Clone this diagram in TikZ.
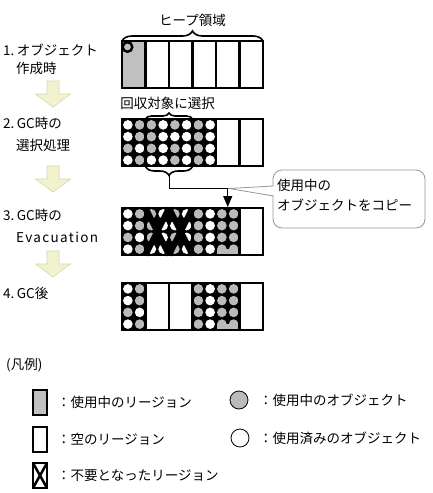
\documentclass[tikz,border=0pt]{standalone}
\usepackage{fontspec}
\setmainfont{Noto Sans CJK JP}
\usetikzlibrary{decorations.pathreplacing,arrows.meta}
\definecolor{rgray}{RGB}{192,192,192}
\definecolor{og}{RGB}{186,186,186}
\colorlet{ow}{white}
\definecolor{ayel}{RGB}{242,242,206}
\definecolor{ayelb}{RGB}{214,214,172}
\definecolor{cgray}{RGB}{150,150,150}
\newcommand\objgrid[1]{%
  \fill[black] (122,#1) rectangle (216,#1+47);
  \foreach \rr/\lst in {1/{ow,og,og,ow,og,ow,og,ow},2/{ow,og,og,ow,ow,ow,og,ow},3/{og,ow,og,ow,og,ow,og,ow},4/{ow,og,ow,ow,og,ow,og,ow}}{%
    \foreach \ff [count=\kk] in \lst {%
      \fill[\ff] ({127.875+11.75*(\kk-1)},{#1+5.875+11.75*(\rr-1)}) circle (4.8);
    }%
  }%
}
\newcommand\copyreg[1]{%
  \fill[black] (216,#1) rectangle (239.5,#1+47);
  \foreach \rr in {1,...,4}{\foreach \cc in {0,1}{\fill[og] ({221.875+11.75*\cc},{#1+5.875+11.75*(\rr-1)}) circle (4.8);}}
  \fill[og] (217.3,#1+41.1) rectangle (238.2,#1+45.6);
}
\newcommand\heapframe[1]{%
  \foreach \xx in {145.5,169,192.5,216,239.5}{\draw[line width=2.2] (\xx,#1) -- (\xx,#1+47);}
  \draw[line width=2.8] (122,#1) rectangle (263,#1+47);
}
\newcommand\yarrow[1]{%
  \filldraw[yarr] (47,#1) -- (59,#1) -- (59,#1+13) -- (70.5,#1+13) -- (53,#1+26) -- (35.5,#1+13) -- (47,#1+13) -- cycle;
}
\begin{document}
\begin{tikzpicture}[x=1pt,y=-1pt,
  lbl/.style={inner sep=0pt, anchor=west, font=\fontsize{13.5}{16}\selectfont},
  yarr/.style={fill=ayel, draw=ayelb, line width=0.6pt},
  hbrace/.style={decorate, decoration={brace, amplitude=#1}, line width=1.6pt},
  conn/.style={line width=1pt}]
\useasboundingbox (0,0) rectangle (433,493);
\fill[white] (0,0) rectangle (433,493);

% ---- top label and brace
\node[lbl, anchor=center] (heap) at (192.5,20) {ヒープ領域};
\draw[hbrace=10pt] (122,41) -- (263,41);

% ---- row 1
\fill[rgray] (122,41) rectangle (145.5,88);
\heapframe{41}
\draw[line width=2.4pt, fill=rgray] (127.5,47) circle (4.8);

% ---- row 2
\node[lbl, anchor=center] (sel) at (167.5,103) {回収対象に選択};
\draw[hbrace=6pt] (145.5,119) -- (192.5,119);
\objgrid{119}
\heapframe{119}
\draw[hbrace=9pt] (192.5,166.5) -- (145.5,166.5);
\coordinate (btip) at (169,175.5);

% ---- row 3
\objgrid{208}
\copyreg{208}
\draw[line width=6pt] (145.5,208) -- (169,255) (169,208) -- (145.5,255)
                      (169,208) -- (192.5,255) (192.5,208) -- (169,255);
\heapframe{208}

% ---- row 4
\objgrid{283}
\fill[white] (145.5,283) rectangle (192.5,330);
\copyreg{283}
\heapframe{283}

% ---- callout
\node[draw=cgray, line width=0.8pt, rounded corners=9pt, minimum width=152pt, minimum height=58pt, inner sep=0pt, fill=white] (cbox) at (349,199) {};
\coordinate (ttip) at (229,188.5);
\fill[white] (ttip) -- (274,186) -- (274,196) -- cycle;
\draw[cgray, line width=0.8pt] (273.6,186) -- (ttip) -- (273.6,196);
\node[lbl, align=left, font=\fontsize{13.5}{20}\selectfont] (ctext) at (277,195) {使用中の\\オブジェクトをコピー};

% ---- connector
\coordinate (bend1) at (169,188);
\coordinate (bend2) at (227.75,188);
\coordinate (r3top) at (227.75,207);
\draw[conn, -{Triangle[length=11pt,width=9pt]}] (btip) -- (bend1) -- (bend2) -- (r3top);

% ---- left labels and arrows
\node[lbl] (s1a) at (3,50) {1.\kern2.5pt オブジェクト};
\node[lbl] (s1b) at (16,68) {作成時};
\yarrow{81}
\node[lbl] (s2a) at (3,123) {2.\kern2.5pt GC時の};
\node[lbl] (s2b) at (16,145) {選択処理};
\yarrow{166}
\node[lbl] (s3a) at (3,215) {3.\kern2.5pt GC時の};
\node[lbl] (s3b) at (16,237) {\addfontfeature{LetterSpace=10}Evacuation};
\yarrow{251}
\node[lbl] (s4a) at (3,293) {4.\kern2.5pt GC後};

% ---- legend
\node[lbl] (lg) at (6,365) {(凡例)};
\draw[fill=rgray, line width=1.3pt] (33,390) rectangle (47,415);
\node[lbl] (lg1) at (57,402) {：使用中のリージョン};
\draw[line width=1.1pt] (33,427) rectangle (47,452);
\node[lbl] (lg2) at (57,439) {：空のリージョン};
\draw[line width=1.5pt] (33,463) rectangle (47,488);
\draw[line width=2.5pt] (33,463) -- (47,488) (47,463) -- (33,488);
\node[lbl] (lg3) at (57,476) {：不要となったリージョン};
\draw[fill=og, line width=0.8pt] (239,400) circle (9);
\node[lbl] (lg4) at (259,400) {：使用中のオブジェクト};
\draw[line width=0.8pt] (240,438) circle (9);
\node[lbl] (lg5) at (259,438) {：使用済みのオブジェクト};
\end{tikzpicture}
\end{document}
